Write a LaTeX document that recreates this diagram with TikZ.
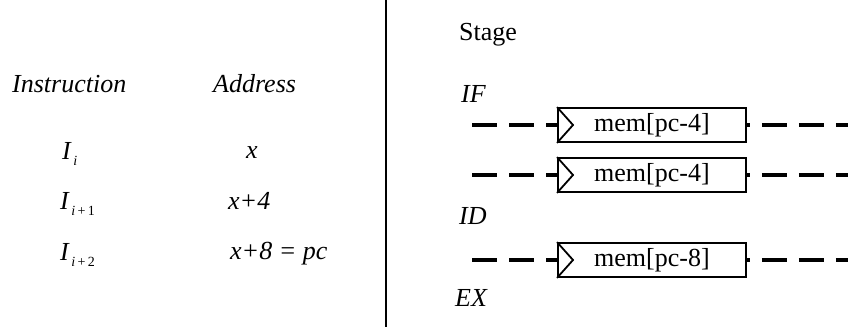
\documentclass[tikz,border=0pt]{standalone}
\usepackage{fontspec}
\setmainfont{Liberation Serif}
\newcommand\Isub[1]{\textit{I}\kern1.5pt\raisebox{-6pt}{\fontsize{14}{14}\selectfont #1}}
\begin{document}
\begin{tikzpicture}[x=1pt,y=-1pt,
  lbl/.style={anchor=base west,inner sep=0pt,font=\fontsize{26}{30}\selectfont},
  ilbl/.style={anchor=base west,inner sep=0pt,font=\fontsize{26}{30}\selectfont\itshape},
  reg/.style={draw,line width=1.8pt,fill=white,minimum width=188pt,minimum height=34pt,inner sep=0pt,font=\fontsize{26}{30}\selectfont,anchor=west},
  wire/.style={line width=3.6pt,dash pattern=on 25pt off 12pt},
  clk/.style={line width=1.8pt,line join=miter}
]
\useasboundingbox (0,0) rectangle (848,327);
% divider
\coordinate (vt) at (386,0);
\coordinate (vb) at (386,327);
\draw[line width=1.6pt] (vt) -- (vb);
% left table
\node[ilbl] (hInstr) at (12,92) {Instruction};
\node[ilbl] (hAddr) at (213,92) {Address};
\node[lbl] (i0) at (62,159) {\Isub{\textit{i}}};
\node[lbl] (i1) at (60,209) {\Isub{\textit{i}\,+\,1}};
\node[lbl] (i2) at (60,260) {\Isub{\textit{i}\,+\,2}};
\node[ilbl] (a0) at (246,158) {x};
\node[ilbl] (a1) at (228,209) {x+4};
\node[ilbl] (a2) at (230,259) {x+8 = pc};
% right side labels
\node[lbl] (stage) at (459,40) {Stage};
\node[ilbl] (sIF) at (461,102) {IF};
\node[ilbl] (sID) at (459,224) {ID};
\node[ilbl] (sEX) at (455,306) {EX};
% registers
\node[reg] (r1) at (557,125) {mem[pc-4]};
\node[reg] (r2) at (557,175) {mem[pc-4]};
\node[reg] (r3) at (557,260) {mem[pc-8]};
\foreach \r in {r1,r2,r3}{
  \draw[clk] (\r.north west) -- ([xshift=16pt]\r.west) -- (\r.south west);
}
% wires
\coordinate (l1) at (472,125); \coordinate (e1) at (848,125);
\coordinate (l2) at (472,175); \coordinate (e2) at (848,175);
\coordinate (l3) at (472,260); \coordinate (e3) at (848,260);
\draw[wire] (l1) -- (r1.west);
\draw[wire,dash phase=22pt] (r1.east) -- (e1);
\draw[wire] (l2) -- (r2.west);
\draw[wire,dash phase=22pt] (r2.east) -- (e2);
\draw[wire] (l3) -- (r3.west);
\draw[wire,dash phase=22pt] (r3.east) -- (e3);
\end{tikzpicture}
\end{document}
